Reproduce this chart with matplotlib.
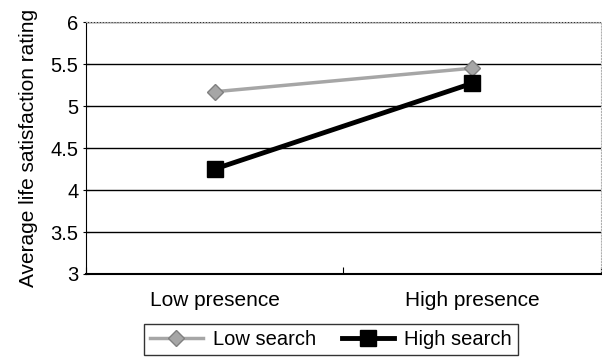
import matplotlib
matplotlib.use('Agg')
from matplotlib import pyplot as plt

plt.rcParams['font.family'] = ['Liberation Sans', 'DejaVu Sans']

# data
conditions = ['Low presence', 'High presence']
low_search = [5.17, 5.45]
high_search = [4.25, 5.27]
yticks = [3, 3.5, 4, 4.5, 5, 5.5, 6]

fig = plt.figure(figsize=(6.02, 3.61), dpi=100)
ax = fig.add_axes([0.143, 0.241, 0.855, 0.698])

x = range(len(conditions))
ax.plot(x, low_search, color='#a6a6a6', lw=2.5, marker='D', markersize=8,
        markerfacecolor='#a6a6a6', markeredgecolor='#808080', label='Low search', zorder=3)
ax.plot(x, high_search, color='black', lw=3.5, marker='s', markersize=11,
        label='High search', zorder=4)

ax.set_xlim(-0.5, 1.5)
ax.set_ylim(3, 6)
ax.set_yticks(yticks)
ax.set_yticklabels(['3', '3.5', '4', '4.5', '5', '5.5', '6'])
ax.set_xticks([-0.5, 0.5, 1.5], minor=False)
ax.set_xticklabels(['', '', ''])
ax.set_xticks(list(x), minor=True)
ax.set_xticklabels(conditions, minor=True)
ax.tick_params(axis='x', which='minor', length=0, pad=12, labelsize=15)
ax.tick_params(axis='x', which='major', length=5, direction='in', color='black')
ax.tick_params(axis='y', length=5, direction='inout', labelsize=14.5, pad=3)
ax.yaxis.grid(True, color='black', lw=1)
ax.set_axisbelow(True)

ax.spines['left'].set_color('black')
ax.spines['bottom'].set_color('black')
ax.spines['bottom'].set_linewidth(1.5)
for s in ['top', 'right']:
    ax.spines[s].set_color('#b0b0b0')
    ax.spines[s].set_linestyle(':')

ax.set_ylabel('Average life satisfaction rating', fontsize=15, labelpad=9)

leg = fig.legend(loc='upper center', bbox_to_anchor=(0.55, 0.103), ncol=2,
                 fontsize=14.5, frameon=True, fancybox=False, edgecolor='black',
                 handlelength=2.6, handletextpad=0.5, columnspacing=1.3,
                 borderaxespad=0, borderpad=0.3)
leg.get_frame().set_linewidth(1)

fig.savefig('out.png', dpi=100)
